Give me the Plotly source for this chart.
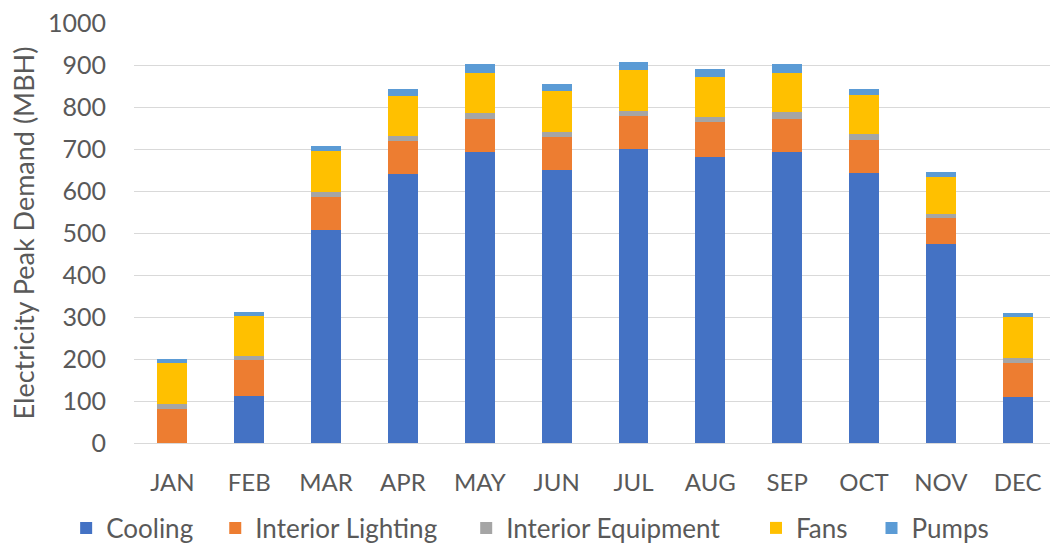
import plotly.graph_objects as go

months = ["JAN", "FEB", "MAR", "APR", "MAY", "JUN", "JUL", "AUG", "SEP", "OCT", "NOV", "DEC"]

# Monthly electricity peak demand by end use (MBH)
cooling = [0, 113, 507, 640, 693, 650, 699, 682, 693, 642, 474, 110]
interior_lighting = [81, 84, 79, 79, 79, 78, 79, 83, 79, 80, 61, 80]
interior_equipment = [12, 11, 12, 12, 14, 13, 13, 12, 16, 13, 10, 12]
fans = [97, 95, 97, 95, 96, 97, 97, 95, 94, 94, 89, 97]
pumps = [10, 9, 12, 16, 20, 17, 20, 19, 20, 13, 12, 10]

y_ticks = [0, 100, 200, 300, 400, 500, 600, 700, 800, 900, 1000]

series = [
    ("Cooling", cooling, "#4472C4"),
    ("Interior Lighting", interior_lighting, "#ED7D31"),
    ("Interior Equipment", interior_equipment, "#A5A5A5"),
    ("Fans", fans, "#FFC000"),
    ("Pumps", pumps, "#5B9BD5"),
]

text_color = "#595959"
grid_color = "#D9D9D9"
font_family = "Lato"

# left edge of each legend entry, as a fraction of the figure width
legend_left = [0.063, 0.205, 0.444, 0.720, 0.830]

fig = go.Figure()
legend_layouts = {}
for i, ((name, values, color), lx) in enumerate(zip(series, legend_left)):
    legend_id = "legend" if i == 0 else f"legend{i + 1}"
    fig.add_trace(go.Bar(
        name=name,
        x=months,
        y=values,
        marker=dict(color=color, line=dict(width=0)),
        legend=legend_id,
        showlegend=True,
    ))
    legend_layouts[legend_id] = dict(
        orientation="h",
        xref="container",
        yref="container",
        x=lx,
        xanchor="left",
        y=0.0365,
        yanchor="middle",
        font=dict(family=font_family, size=26, color=text_color),
        itemwidth=30,
        bgcolor="rgba(0,0,0,0)",
    )

fig.update_layout(
    barmode="stack",
    bargap=0.61,
    width=1050,
    height=548,
    margin=dict(l=134, r=0, t=23, b=105, autoexpand=False),
    paper_bgcolor="white",
    plot_bgcolor="white",
    font=dict(family=font_family, size=24, color=text_color),
    showlegend=True,
    xaxis=dict(
        type="category",
        range=[-0.5, 11.42],
        showgrid=False,
        showline=False,
        zeroline=False,
        ticks="",
        ticklabelstandoff=23,
        tickfont=dict(family=font_family, size=24, color=text_color),
    ),
    yaxis=dict(
        range=[0, 1000],
        tickvals=y_ticks,
        ticktext=[str(v) for v in y_ticks],
        showgrid=True,
        gridcolor=grid_color,
        gridwidth=1,
        zeroline=True,
        zerolinecolor=grid_color,
        zerolinewidth=1,
        showline=False,
        ticks="",
        ticklabelstandoff=27,
        tickfont=dict(family=font_family, size=25, color=text_color),
        title=dict(
            text="Electricity Peak Demand (MBH)",
            font=dict(family=font_family, size=27, color=text_color),
            standoff=5,
        ),
        automargin=False,
    ),
    **legend_layouts,
)

fig.write_html("out.html")
